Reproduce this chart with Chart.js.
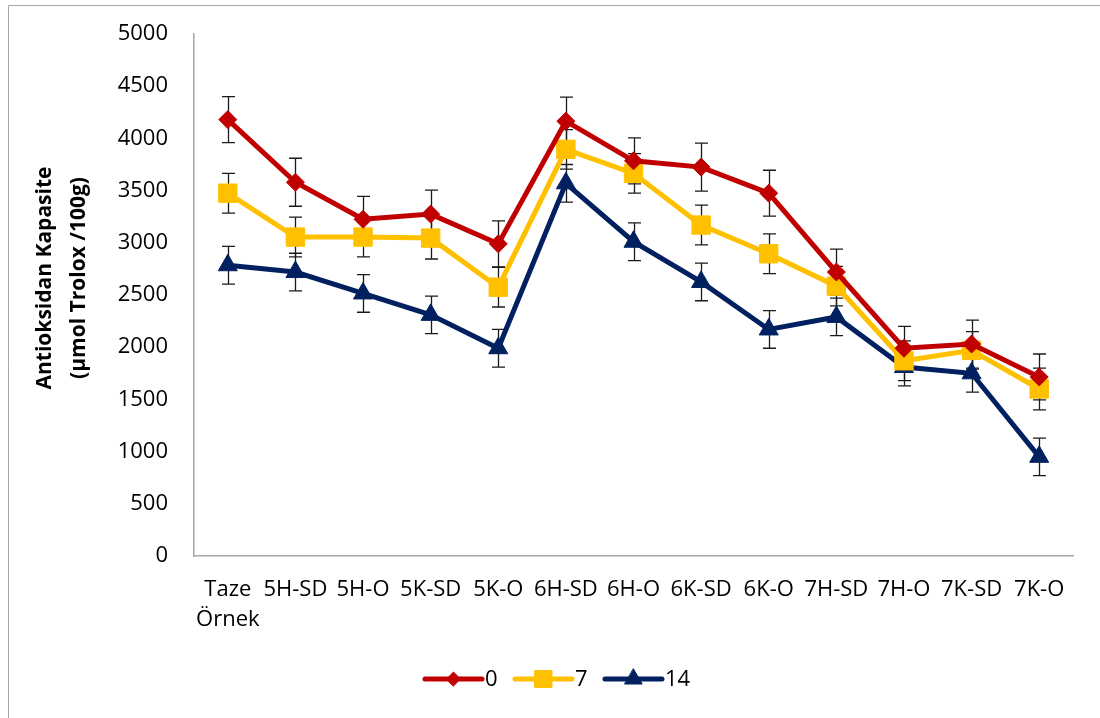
<!DOCTYPE html>
<html><head><meta charset="utf-8">
<script src="https://cdn.jsdelivr.net/npm/chart.js@4.4.1/dist/chart.umd.min.js"></script>
<style>html,body{margin:0;padding:0;background:#fff;} canvas{display:block;}</style>
</head><body>
<canvas id="c" width="1100" height="718"></canvas>
<script>
const categories = [["Taze","Örnek"],"5H-SD","5H-O","5K-SD","5K-O","6H-SD","6H-O","6K-SD","6K-O","7H-SD","7H-O","7K-SD","7K-O"];
const seriesNames = ["0","7","14"];
const values0  = [4180,3580,3225,3275,2990,4165,3785,3725,3475,2720,1990,2030,1715];
const values7  = [3475,3055,3055,3045,2575,3895,3665,3170,2895,2585,1870,1970,1600];
const values14 = [2785,2720,2515,2310,1990,3570,3010,2625,2170,2290,1810,1750,950];
const err0  = [220,230,220,230,220,230,220,230,220,220,210,230,220];
const err7  = [190,190,190,200,190,190,190,190,190,190,190,180,200];
const err14 = [180,180,180,180,180,180,180,180,180,180,180,180,180];
const yTitleLines = ["Antioksidan Kapasite","(µmol Trolox /100g)"];
const yMin = 0, yMax = 5000, yStep = 500;

const FONT = "'Open Sans', 'Noto Sans', sans-serif";
const errors = [err0, err7, err14];

const errorBarPlugin = {
  id: 'errorBars',
  beforeDatasetsDraw(chart) {
    const ctx = chart.ctx, ys = chart.scales.y;
    ctx.save();
    ctx.strokeStyle = '#1a1a1a';
    ctx.lineWidth = 1.3;
    chart.data.datasets.forEach((ds, di) => {
      const meta = chart.getDatasetMeta(di);
      meta.data.forEach((pt, i) => {
        const v = ds.data[i], e = errors[di][i];
        const x = Math.round(pt.x) + 0.5;
        const y1 = ys.getPixelForValue(v + e), y2 = ys.getPixelForValue(v - e);
        ctx.beginPath();
        ctx.moveTo(x, y1); ctx.lineTo(x, y2);
        ctx.moveTo(x - 6.5, y1); ctx.lineTo(x + 6.5, y1);
        ctx.moveTo(x - 6.5, y2); ctx.lineTo(x + 6.5, y2);
        ctx.stroke();
      });
    });
    ctx.restore();
  }
};

const decorPlugin = {
  id: 'decor',
  afterDraw(chart) {
    const ctx = chart.ctx;
    ctx.save();
    // outer frame
    ctx.strokeStyle = '#a6a6a6';
    ctx.lineWidth = 1;
    ctx.beginPath();
    ctx.moveTo(8.5, 718); ctx.lineTo(8.5, 5.5); ctx.lineTo(1100, 5.5);
    ctx.stroke();
    // y title
    ctx.fillStyle = '#000';
    ctx.font = "bold 21px " + FONT;
    ctx.textAlign = 'center';
    ctx.textBaseline = 'middle';
    ctx.translate(0, 278);
    ctx.rotate(-Math.PI / 2);
    ctx.fillText(yTitleLines[0], 0, 45);
    ctx.fillText(yTitleLines[1], 0, 79);
    ctx.restore();
    // legend
    ctx.save();
    const ly = 679;
    const starts = [425, 515, 605];
    ctx.font = "22px " + FONT;
    ctx.textBaseline = 'middle';
    ctx.textAlign = 'left';
    chart.data.datasets.forEach((ds, di) => {
      const x0 = starts[di], x1 = x0 + 57;
      ctx.strokeStyle = ds.borderColor;
      ctx.lineWidth = 5;
      ctx.lineCap = 'round';
      ctx.beginPath(); ctx.moveTo(x0, ly); ctx.lineTo(x1, ly); ctx.stroke();
      ctx.lineWidth = 1;
      ctx.fillStyle = ds.pointBackgroundColor;
      ctx.strokeStyle = ds.pointBorderColor;
      const r = ds.pointStyle === 'rectRot' ? 7 : (ds.pointStyle === 'rect' ? 12 : 10);
      Chart.helpers.drawPoint(ctx, {pointStyle: ds.pointStyle, radius: r, borderWidth: 1, rotation: 0}, (x0 + x1) / 2, ly);
      ctx.fillStyle = '#000';
      ctx.fillText(ds.label, x1 + 3, ly + 1);
    });
    ctx.restore();
  }
};

const mk = (label, data, color, style, radius) => ({
  label, data,
  borderColor: color, backgroundColor: color,
  pointBackgroundColor: color, pointBorderColor: color,
  borderWidth: 5, pointStyle: style, pointRadius: radius, pointBorderWidth: 1,
  pointHoverRadius: radius, tension: 0, fill: false
});

new Chart(document.getElementById('c'), {
  type: 'line',
  data: {
    labels: categories,
    datasets: [
      mk(seriesNames[0], values0, '#C00000', 'rectRot', 9),
      mk(seriesNames[1], values7, '#FFC000', 'rect', 13),
      mk(seriesNames[2], values14, '#002060', 'triangle', 11)
    ]
  },
  options: {
    responsive: false,
    animation: false,
    devicePixelRatio: 1,
    layout: { padding: { left: 0, top: 34, right: 27, bottom: 0 } },
    plugins: { legend: { display: false }, tooltip: { enabled: false } },
    scales: {
      x: {
        offset: true,
        grid: { display: false, drawTicks: false },
        border: { display: true, color: '#a6a6a6', width: 1.5 },
        ticks: { color: '#000', font: { family: FONT, size: 22, lineHeight: 1.4 }, padding: 18, maxRotation: 0, autoSkip: false },
        afterFit(s) { s.height = 162; s.paddingLeft = 0; s.paddingRight = 0; }
      },
      y: {
        min: yMin, max: yMax,
        grid: { display: false, drawTicks: false },
        border: { display: true, color: '#a6a6a6', width: 1.5 },
        ticks: { stepSize: yStep, color: '#000', font: { family: FONT, size: 22 }, padding: 26, callback: v => String(v) },
        afterFit(s) { s.width = 194; s.paddingTop = 0; s.paddingBottom = 0; }
      }
    }
  },
  plugins: [errorBarPlugin, decorPlugin]
});
</script>
</body></html>
